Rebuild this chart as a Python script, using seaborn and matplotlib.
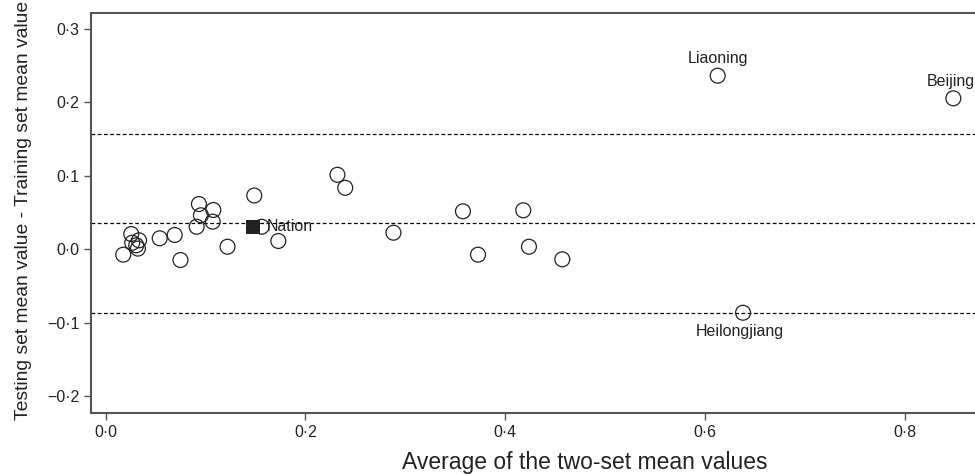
import matplotlib
matplotlib.use("Agg")
import matplotlib.pyplot as plt
import seaborn as sns
import pandas as pd

# province points: average of the two sets vs difference (testing - training)
avg_values = [0.0176, 0.0256, 0.0266, 0.0334, 0.0323, 0.0306, 0.0541, 0.0691, 0.0749,
              0.0934, 0.0954, 0.0911, 0.1078, 0.1072, 0.1220, 0.1488, 0.1562, 0.1729,
              0.2321, 0.2399, 0.2882, 0.3578, 0.3729, 0.4182, 0.4239, 0.4573,
              0.6129, 0.8489, 0.6383]
diff_values = [-0.0073, 0.0208, 0.0090, 0.0122, 0.0010, 0.0055, 0.0150, 0.0195, -0.0146,
               0.0616, 0.0463, 0.0307, 0.0535, 0.0376, 0.0035, 0.0732, 0.0307, 0.0113,
               0.1014, 0.0837, 0.0226, 0.0517, -0.0073, 0.0531, 0.0035, -0.0136,
               0.2362, 0.2054, -0.0863]
point_labels = [""] * 26 + ["Liaoning", "Beijing", "Heilongjiang"]

nation_avg = [0.1478]
nation_diff = [0.0307]

mean_diff = 0.0362
upper_limit = 0.1569
lower_limit = -0.0863

x_ticks = [0.0, 0.2, 0.4, 0.6, 0.8]
x_tick_labels = ["0·0", "0·2", "0·4", "0·6", "0·8"]
y_ticks = [-0.2, -0.1, 0.0, 0.1, 0.2, 0.3]
y_tick_labels = ["−0·2", "−0·1", "0·0", "0·1", "0·2", "0·3"]

df = pd.DataFrame({"avg": avg_values, "diff": diff_values, "label": point_labels})
nation = pd.DataFrame({"avg": nation_avg, "diff": nation_diff})

sns.set_style("ticks")
plt.rcParams["font.family"] = ["Liberation Sans", "DejaVu Sans"]

fig = plt.figure(figsize=(9.75, 4.75), dpi=100)
ax = fig.add_axes([91 / 975, (475 - 412.7) / 475, (975 - 91) / 975, 399.7 / 475])

# mean difference and limits of agreement
for yv in [upper_limit, mean_diff, lower_limit]:
    ax.axhline(yv, color="black", linestyle=(0, (3, 2)), linewidth=0.9, zorder=1)

sns.scatterplot(data=df, x="avg", y="diff", ax=ax, s=115, facecolor="none",
                edgecolor="#222222", linewidth=0.9, zorder=3)
sns.scatterplot(data=nation, x="avg", y="diff", ax=ax, marker="s", s=100,
                color="#222222", edgecolor="#222222", linewidth=0, zorder=2)

ax.annotate("Nation", (nation_avg[0], nation_diff[0]), xytext=(9.5, 0),
            textcoords="offset points", ha="left", va="center", fontsize=11.5,
            color="#222222")

offsets = {"Liaoning": (0, 12.5), "Beijing": (-2, 12), "Heilongjiang": (-2, -13.5)}
for _, row in df[df["label"] != ""].iterrows():
    ax.annotate(row["label"], (row["avg"], row["diff"]), xytext=offsets[row["label"]],
                textcoords="offset points", ha="center", va="center", fontsize=11.5,
                color="#222222")

ax.set_xlim(-0.0147, 0.8706)
ax.set_ylim(-0.2223, 0.3215)
ax.set_xticks(x_ticks)
ax.set_xticklabels(x_tick_labels)
ax.set_yticks(y_ticks)
ax.set_yticklabels(y_tick_labels)
ax.tick_params(labelsize=11.5, length=5, width=1, color="#555555", labelcolor="#222222")

for side in ["left", "bottom", "top"]:
    ax.spines[side].set_color("#555555")
    ax.spines[side].set_linewidth(1.5)
ax.spines["right"].set_visible(False)

ax.set_xlabel("Average of the two-set mean values", fontsize=16.5, color="#222222")
ax.set_ylabel("Testing set mean value - Training set mean value", fontsize=13.9,
              color="#222222")
# place axis labels at fixed pixel positions
ax.xaxis.set_label_coords((585 - 91) / 884, -(474 - 412.7) / 399.7)
ax.xaxis.label.set_va("bottom")
ax.yaxis.set_label_coords(-(91 - 32) / 884, (412.7 - 210) / 399.7)

plt.savefig("out.png", dpi=100)
plt.close()
